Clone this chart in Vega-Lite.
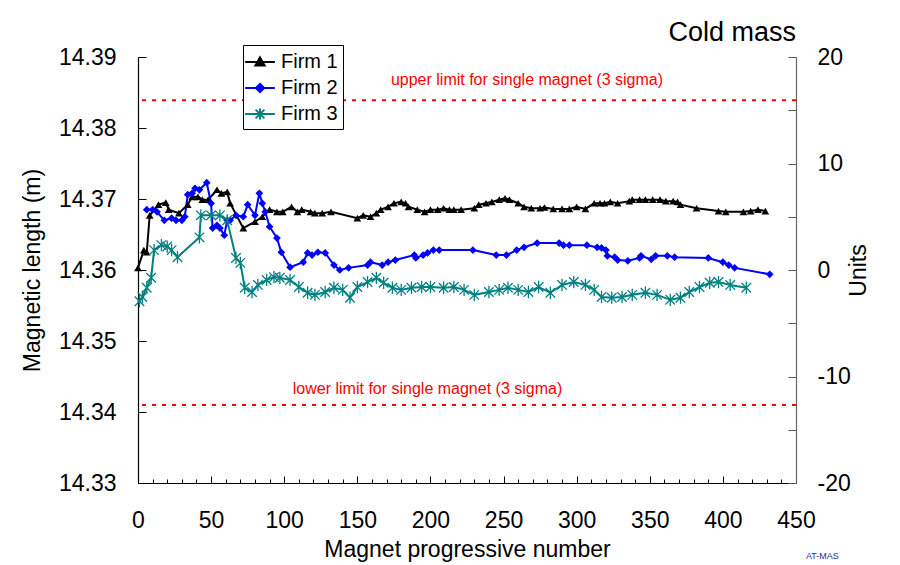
{
  "$schema": "https://vega.github.io/schema/vega-lite/v6.json",
  "autosize": "none",
  "width": 658,
  "height": 426,
  "padding": {"left": 138, "top": 57, "right": 104, "bottom": 82},
  "background": "white",
  "config": {
    "view": {"stroke": null},
    "font": "Liberation Sans",
    "axis": {"grid": false, "labelFont": "Liberation Sans", "titleFont": "Liberation Sans", "titleFontWeight": "normal", "labelColor": "black", "titleColor": "black"},
    "legend": {
      "orient": "none", "legendX": 105, "legendY": -12,
      "padding": 5, "strokeColor": "black", "fillColor": "white",
      "symbolSize": 484, "symbolStrokeWidth": 2, "symbolOpacity": 1,
      "labelFontSize": 20, "labelFont": "Liberation Sans", "labelColor": "black", "labelOffset": 9,
      "rowPadding": 4
    }
  },
  "title": {"text": "Cold mass", "anchor": "end", "frame": "group", "fontSize": 27, "font": "Liberation Sans", "fontWeight": "normal", "offset": -2, "color": "black"},
  "datasets": {
    "series": [
      {"firm": "Firm 1", "n": 0, "len": 14.3603},
      {"firm": "Firm 1", "n": 4, "len": 14.3628},
      {"firm": "Firm 1", "n": 6, "len": 14.3625},
      {"firm": "Firm 1", "n": 8, "len": 14.3677},
      {"firm": "Firm 1", "n": 14, "len": 14.3692},
      {"firm": "Firm 1", "n": 19, "len": 14.3695},
      {"firm": "Firm 1", "n": 21, "len": 14.3685},
      {"firm": "Firm 1", "n": 28, "len": 14.368},
      {"firm": "Firm 1", "n": 34, "len": 14.3692},
      {"firm": "Firm 1", "n": 37, "len": 14.3703},
      {"firm": "Firm 1", "n": 41, "len": 14.3703},
      {"firm": "Firm 1", "n": 44, "len": 14.3699},
      {"firm": "Firm 1", "n": 48, "len": 14.3699},
      {"firm": "Firm 1", "n": 54, "len": 14.3713},
      {"firm": "Firm 1", "n": 57, "len": 14.3708},
      {"firm": "Firm 1", "n": 61, "len": 14.371},
      {"firm": "Firm 1", "n": 63, "len": 14.3694},
      {"firm": "Firm 1", "n": 72, "len": 14.3659},
      {"firm": "Firm 1", "n": 80, "len": 14.3668},
      {"firm": "Firm 1", "n": 85, "len": 14.3675},
      {"firm": "Firm 1", "n": 90, "len": 14.3685},
      {"firm": "Firm 1", "n": 95, "len": 14.3682},
      {"firm": "Firm 1", "n": 99, "len": 14.3682},
      {"firm": "Firm 1", "n": 105, "len": 14.3689},
      {"firm": "Firm 1", "n": 109, "len": 14.3682},
      {"firm": "Firm 1", "n": 112, "len": 14.3685},
      {"firm": "Firm 1", "n": 118, "len": 14.3682},
      {"firm": "Firm 1", "n": 121, "len": 14.368},
      {"firm": "Firm 1", "n": 126, "len": 14.368},
      {"firm": "Firm 1", "n": 132, "len": 14.3682},
      {"firm": "Firm 1", "n": 150, "len": 14.3673},
      {"firm": "Firm 1", "n": 154, "len": 14.3677},
      {"firm": "Firm 1", "n": 159, "len": 14.3675},
      {"firm": "Firm 1", "n": 163, "len": 14.368},
      {"firm": "Firm 1", "n": 166, "len": 14.3685},
      {"firm": "Firm 1", "n": 171, "len": 14.3689},
      {"firm": "Firm 1", "n": 175, "len": 14.3694},
      {"firm": "Firm 1", "n": 180, "len": 14.3696},
      {"firm": "Firm 1", "n": 183, "len": 14.3694},
      {"firm": "Firm 1", "n": 185, "len": 14.3689},
      {"firm": "Firm 1", "n": 191, "len": 14.3685},
      {"firm": "Firm 1", "n": 196, "len": 14.3682},
      {"firm": "Firm 1", "n": 200, "len": 14.3685},
      {"firm": "Firm 1", "n": 205, "len": 14.3685},
      {"firm": "Firm 1", "n": 209, "len": 14.3687},
      {"firm": "Firm 1", "n": 213, "len": 14.3685},
      {"firm": "Firm 1", "n": 216, "len": 14.3685},
      {"firm": "Firm 1", "n": 221, "len": 14.3685},
      {"firm": "Firm 1", "n": 230, "len": 14.3687},
      {"firm": "Firm 1", "n": 233, "len": 14.3692},
      {"firm": "Firm 1", "n": 238, "len": 14.3694},
      {"firm": "Firm 1", "n": 242, "len": 14.3696},
      {"firm": "Firm 1", "n": 247, "len": 14.3699},
      {"firm": "Firm 1", "n": 251, "len": 14.3701},
      {"firm": "Firm 1", "n": 254, "len": 14.3699},
      {"firm": "Firm 1", "n": 260, "len": 14.3694},
      {"firm": "Firm 1", "n": 264, "len": 14.3689},
      {"firm": "Firm 1", "n": 269, "len": 14.3687},
      {"firm": "Firm 1", "n": 275, "len": 14.3687},
      {"firm": "Firm 1", "n": 278, "len": 14.3688},
      {"firm": "Firm 1", "n": 284, "len": 14.3686},
      {"firm": "Firm 1", "n": 290, "len": 14.3686},
      {"firm": "Firm 1", "n": 295, "len": 14.3686},
      {"firm": "Firm 1", "n": 300, "len": 14.3689},
      {"firm": "Firm 1", "n": 306, "len": 14.3686},
      {"firm": "Firm 1", "n": 312, "len": 14.3694},
      {"firm": "Firm 1", "n": 316, "len": 14.3694},
      {"firm": "Firm 1", "n": 319, "len": 14.3694},
      {"firm": "Firm 1", "n": 323, "len": 14.3696},
      {"firm": "Firm 1", "n": 328, "len": 14.3694},
      {"firm": "Firm 1", "n": 336, "len": 14.3697},
      {"firm": "Firm 1", "n": 338, "len": 14.3699},
      {"firm": "Firm 1", "n": 343, "len": 14.3699},
      {"firm": "Firm 1", "n": 347, "len": 14.3699},
      {"firm": "Firm 1", "n": 352, "len": 14.3699},
      {"firm": "Firm 1", "n": 357, "len": 14.3699},
      {"firm": "Firm 1", "n": 361, "len": 14.3697},
      {"firm": "Firm 1", "n": 366, "len": 14.3697},
      {"firm": "Firm 1", "n": 369, "len": 14.3696},
      {"firm": "Firm 1", "n": 371, "len": 14.3692},
      {"firm": "Firm 1", "n": 382, "len": 14.3687},
      {"firm": "Firm 1", "n": 397, "len": 14.3683},
      {"firm": "Firm 1", "n": 402, "len": 14.3682},
      {"firm": "Firm 1", "n": 414, "len": 14.3682},
      {"firm": "Firm 1", "n": 419, "len": 14.3683},
      {"firm": "Firm 1", "n": 424, "len": 14.3685},
      {"firm": "Firm 1", "n": 429, "len": 14.3683},
      {"firm": "Firm 2", "n": 6, "len": 14.3685},
      {"firm": "Firm 2", "n": 10, "len": 14.3685},
      {"firm": "Firm 2", "n": 13, "len": 14.3682},
      {"firm": "Firm 2", "n": 18, "len": 14.367},
      {"firm": "Firm 2", "n": 23, "len": 14.3673},
      {"firm": "Firm 2", "n": 26, "len": 14.367},
      {"firm": "Firm 2", "n": 30, "len": 14.367},
      {"firm": "Firm 2", "n": 32, "len": 14.3675},
      {"firm": "Firm 2", "n": 34, "len": 14.3706},
      {"firm": "Firm 2", "n": 37, "len": 14.3708},
      {"firm": "Firm 2", "n": 39, "len": 14.3715},
      {"firm": "Firm 2", "n": 42, "len": 14.3713},
      {"firm": "Firm 2", "n": 47, "len": 14.3723},
      {"firm": "Firm 2", "n": 50, "len": 14.3694},
      {"firm": "Firm 2", "n": 51, "len": 14.3659},
      {"firm": "Firm 2", "n": 54, "len": 14.3663},
      {"firm": "Firm 2", "n": 56, "len": 14.3659},
      {"firm": "Firm 2", "n": 59, "len": 14.3649},
      {"firm": "Firm 2", "n": 61, "len": 14.367},
      {"firm": "Firm 2", "n": 63, "len": 14.367},
      {"firm": "Firm 2", "n": 67, "len": 14.3677},
      {"firm": "Firm 2", "n": 72, "len": 14.3675},
      {"firm": "Firm 2", "n": 75, "len": 14.3692},
      {"firm": "Firm 2", "n": 80, "len": 14.3677},
      {"firm": "Firm 2", "n": 83, "len": 14.3708},
      {"firm": "Firm 2", "n": 85, "len": 14.3694},
      {"firm": "Firm 2", "n": 87, "len": 14.3682},
      {"firm": "Firm 2", "n": 90, "len": 14.3661},
      {"firm": "Firm 2", "n": 95, "len": 14.3645},
      {"firm": "Firm 2", "n": 98, "len": 14.3625},
      {"firm": "Firm 2", "n": 104, "len": 14.3604},
      {"firm": "Firm 2", "n": 113, "len": 14.3611},
      {"firm": "Firm 2", "n": 116, "len": 14.3624},
      {"firm": "Firm 2", "n": 119, "len": 14.3621},
      {"firm": "Firm 2", "n": 123, "len": 14.3625},
      {"firm": "Firm 2", "n": 128, "len": 14.3624},
      {"firm": "Firm 2", "n": 134, "len": 14.3607},
      {"firm": "Firm 2", "n": 138, "len": 14.36},
      {"firm": "Firm 2", "n": 144, "len": 14.3603},
      {"firm": "Firm 2", "n": 157, "len": 14.3607},
      {"firm": "Firm 2", "n": 159, "len": 14.3611},
      {"firm": "Firm 2", "n": 167, "len": 14.3607},
      {"firm": "Firm 2", "n": 171, "len": 14.3611},
      {"firm": "Firm 2", "n": 176, "len": 14.3614},
      {"firm": "Firm 2", "n": 189, "len": 14.3621},
      {"firm": "Firm 2", "n": 190, "len": 14.3617},
      {"firm": "Firm 2", "n": 195, "len": 14.3621},
      {"firm": "Firm 2", "n": 198, "len": 14.3624},
      {"firm": "Firm 2", "n": 202, "len": 14.3628},
      {"firm": "Firm 2", "n": 206, "len": 14.3628},
      {"firm": "Firm 2", "n": 229, "len": 14.3628},
      {"firm": "Firm 2", "n": 245, "len": 14.3621},
      {"firm": "Firm 2", "n": 252, "len": 14.3621},
      {"firm": "Firm 2", "n": 259, "len": 14.3628},
      {"firm": "Firm 2", "n": 264, "len": 14.3632},
      {"firm": "Firm 2", "n": 273, "len": 14.3638},
      {"firm": "Firm 2", "n": 288, "len": 14.3638},
      {"firm": "Firm 2", "n": 291, "len": 14.3635},
      {"firm": "Firm 2", "n": 295, "len": 14.3635},
      {"firm": "Firm 2", "n": 307, "len": 14.3635},
      {"firm": "Firm 2", "n": 314, "len": 14.3632},
      {"firm": "Firm 2", "n": 317, "len": 14.3631},
      {"firm": "Firm 2", "n": 320, "len": 14.3628},
      {"firm": "Firm 2", "n": 321, "len": 14.362},
      {"firm": "Firm 2", "n": 326, "len": 14.3618},
      {"firm": "Firm 2", "n": 328, "len": 14.3614},
      {"firm": "Firm 2", "n": 335, "len": 14.3613},
      {"firm": "Firm 2", "n": 343, "len": 14.3617},
      {"firm": "Firm 2", "n": 344, "len": 14.362},
      {"firm": "Firm 2", "n": 351, "len": 14.3615},
      {"firm": "Firm 2", "n": 354, "len": 14.362},
      {"firm": "Firm 2", "n": 362, "len": 14.362},
      {"firm": "Firm 2", "n": 367, "len": 14.3618},
      {"firm": "Firm 2", "n": 390, "len": 14.3617},
      {"firm": "Firm 2", "n": 400, "len": 14.3611},
      {"firm": "Firm 2", "n": 404, "len": 14.3607},
      {"firm": "Firm 2", "n": 408, "len": 14.3603},
      {"firm": "Firm 2", "n": 432, "len": 14.3594},
      {"firm": "Firm 3", "n": 1, "len": 14.3556},
      {"firm": "Firm 3", "n": 3, "len": 14.3562},
      {"firm": "Firm 3", "n": 6, "len": 14.3575},
      {"firm": "Firm 3", "n": 9, "len": 14.3589},
      {"firm": "Firm 3", "n": 11, "len": 14.3628},
      {"firm": "Firm 3", "n": 16, "len": 14.3635},
      {"firm": "Firm 3", "n": 20, "len": 14.3633},
      {"firm": "Firm 3", "n": 23, "len": 14.3628},
      {"firm": "Firm 3", "n": 27, "len": 14.3618},
      {"firm": "Firm 3", "n": 42, "len": 14.3646},
      {"firm": "Firm 3", "n": 43, "len": 14.3677},
      {"firm": "Firm 3", "n": 50, "len": 14.3677},
      {"firm": "Firm 3", "n": 56, "len": 14.3677},
      {"firm": "Firm 3", "n": 61, "len": 14.367},
      {"firm": "Firm 3", "n": 67, "len": 14.3617},
      {"firm": "Firm 3", "n": 70, "len": 14.361},
      {"firm": "Firm 3", "n": 73, "len": 14.3575},
      {"firm": "Firm 3", "n": 78, "len": 14.3569},
      {"firm": "Firm 3", "n": 82, "len": 14.3579},
      {"firm": "Firm 3", "n": 88, "len": 14.3586},
      {"firm": "Firm 3", "n": 93, "len": 14.359},
      {"firm": "Firm 3", "n": 97, "len": 14.3589},
      {"firm": "Firm 3", "n": 104, "len": 14.3586},
      {"firm": "Firm 3", "n": 110, "len": 14.3576},
      {"firm": "Firm 3", "n": 116, "len": 14.3568},
      {"firm": "Firm 3", "n": 121, "len": 14.3565},
      {"firm": "Firm 3", "n": 128, "len": 14.3569},
      {"firm": "Firm 3", "n": 134, "len": 14.3575},
      {"firm": "Firm 3", "n": 140, "len": 14.3572},
      {"firm": "Firm 3", "n": 145, "len": 14.3561},
      {"firm": "Firm 3", "n": 150, "len": 14.3576},
      {"firm": "Firm 3", "n": 157, "len": 14.3583},
      {"firm": "Firm 3", "n": 163, "len": 14.3589},
      {"firm": "Firm 3", "n": 168, "len": 14.3582},
      {"firm": "Firm 3", "n": 174, "len": 14.3575},
      {"firm": "Firm 3", "n": 180, "len": 14.3572},
      {"firm": "Firm 3", "n": 187, "len": 14.3575},
      {"firm": "Firm 3", "n": 194, "len": 14.3576},
      {"firm": "Firm 3", "n": 200, "len": 14.3576},
      {"firm": "Firm 3", "n": 209, "len": 14.3575},
      {"firm": "Firm 3", "n": 216, "len": 14.3576},
      {"firm": "Firm 3", "n": 223, "len": 14.3572},
      {"firm": "Firm 3", "n": 230, "len": 14.3565},
      {"firm": "Firm 3", "n": 240, "len": 14.3569},
      {"firm": "Firm 3", "n": 247, "len": 14.3572},
      {"firm": "Firm 3", "n": 253, "len": 14.3575},
      {"firm": "Firm 3", "n": 260, "len": 14.3572},
      {"firm": "Firm 3", "n": 267, "len": 14.3569},
      {"firm": "Firm 3", "n": 274, "len": 14.3576},
      {"firm": "Firm 3", "n": 282, "len": 14.3568},
      {"firm": "Firm 3", "n": 290, "len": 14.3579},
      {"firm": "Firm 3", "n": 298, "len": 14.3583},
      {"firm": "Firm 3", "n": 306, "len": 14.3579},
      {"firm": "Firm 3", "n": 312, "len": 14.3572},
      {"firm": "Firm 3", "n": 317, "len": 14.3562},
      {"firm": "Firm 3", "n": 324, "len": 14.3561},
      {"firm": "Firm 3", "n": 331, "len": 14.3562},
      {"firm": "Firm 3", "n": 338, "len": 14.3565},
      {"firm": "Firm 3", "n": 347, "len": 14.3568},
      {"firm": "Firm 3", "n": 355, "len": 14.3565},
      {"firm": "Firm 3", "n": 364, "len": 14.3558},
      {"firm": "Firm 3", "n": 371, "len": 14.3561},
      {"firm": "Firm 3", "n": 377, "len": 14.3569},
      {"firm": "Firm 3", "n": 384, "len": 14.3576},
      {"firm": "Firm 3", "n": 391, "len": 14.3582},
      {"firm": "Firm 3", "n": 397, "len": 14.3583},
      {"firm": "Firm 3", "n": 405, "len": 14.3579},
      {"firm": "Firm 3", "n": 416, "len": 14.3575}
    ],
    "limits": [{"lim": 14.3839}, {"lim": 14.341}],
    "notes": [
      {"n": 266, "len": 14.3867, "t": "upper limit for single magnet (3 sigma)"},
      {"n": 198, "len": 14.3433, "t": "lower limit for single magnet (3 sigma)"}
    ],
    "firms": [{"firm": "Firm 1"}, {"firm": "Firm 2"}, {"firm": "Firm 3"}],
    "units": [{"u": -20}, {"u": 20}],
    "credit": [{"n": 468, "len": 14.3197, "t": "AT-MAS"}]
  },
  "layer": [
    {
      "resolve": {"axis": {"x": "independent"}},
      "layer": [
        {
          "data": {"name": "series"},
          "transform": [{"filter": "datum.firm === 'Firm 1'"}],
          "mark": {"type": "line", "strokeWidth": 2, "color": "#000000"},
          "encoding": {
            "x": {
              "field": "n", "type": "quantitative",
              "scale": {"domain": [0, 450], "nice": false, "zero": false},
              "axis": {
                "orient": "bottom",
                "values": [0, 50, 100, 150, 200, 250, 300, 350, 400, 450],
                "labelOverlap": false,
                "tickSize": -7,
                "tickColor": "black", "domainColor": "black", "domainWidth": 1.2,
                "labelFontSize": 23, "labelPadding": 33, "labelFlush": false,
                "title": "Magnet progressive number", "titleFontSize": 23, "titlePadding": 6
              }
            },
            "y": {
              "field": "len", "type": "quantitative",
              "scale": {"domain": [14.33, 14.39], "nice": false, "zero": false},
              "axis": {
                "values": [14.33, 14.335, 14.34, 14.345, 14.35, 14.355, 14.36, 14.365, 14.37, 14.375, 14.38, 14.385, 14.39],
                "labelExpr": "round(datum.value * 1000) % 10 === 0 ? format(datum.value, '.2f') : ''",
                "labelOverlap": false,
                "tickSize": -8, "tickColor": "black", "domainColor": "black", "domainWidth": 1.2,
                "labelFontSize": 23, "labelPadding": 30,
                "title": "Magnetic length (m)", "titleFontSize": 23, "titlePadding": 14
              }
            },
            "order": {"field": "n", "type": "quantitative"}
          }
        },
        {
          "data": {"name": "series"},
          "transform": [{"filter": "datum.firm === 'Firm 2'"}],
          "mark": {"type": "line", "strokeWidth": 2, "color": "#0000FF"},
          "encoding": {"x": {"field": "n", "type": "quantitative", "axis": null}, "y": {"field": "len", "type": "quantitative"}, "order": {"field": "n", "type": "quantitative"}}
        },
        {
          "data": {"name": "series"},
          "transform": [{"filter": "datum.firm === 'Firm 3'"}],
          "mark": {"type": "line", "strokeWidth": 2, "color": "#008080"},
          "encoding": {"x": {"field": "n", "type": "quantitative", "axis": null}, "y": {"field": "len", "type": "quantitative"}, "order": {"field": "n", "type": "quantitative"}}
        },
        {
          "data": {"name": "limits"},
          "mark": {"type": "rule", "color": "#FF0000", "strokeDash": [4, 6], "strokeWidth": 2},
          "encoding": {"y": {"field": "lim", "type": "quantitative"}}
        },
        {
          "data": {"name": "notes"},
          "mark": {"type": "text", "color": "#FF0000", "fontSize": 16, "font": "Liberation Sans", "baseline": "middle", "align": "center"},
          "encoding": {
            "x": {
              "field": "n", "type": "quantitative",
              "axis": {
                "orient": "bottom",
                "values": [0,10,20,30,40,60,70,80,90,110,120,130,140,160,170,180,190,210,220,230,240,260,270,280,290,310,320,330,340,360,370,380,390,410,420,430,440],
                "labels": false, "domain": false, "title": null, "grid": false,
                "tickSize": -4, "tickColor": "black"
              }
            },
            "y": {"field": "len", "type": "quantitative"},
            "text": {"field": "t"}
          }
        },
        {
          "data": {"name": "series"},
          "transform": [{"filter": "datum.firm === 'Firm 1'"}],
          "mark": {"type": "point", "shape": "triangle-up", "filled": true, "color": "#000000", "size": 60, "opacity": 1},
          "encoding": {"x": {"field": "n", "type": "quantitative", "axis": null}, "y": {"field": "len", "type": "quantitative"}}
        },
        {
          "data": {"name": "series"},
          "transform": [{"filter": "datum.firm === 'Firm 2'"}],
          "mark": {"type": "point", "shape": "diamond", "filled": true, "color": "#0000FF", "size": 60, "opacity": 1},
          "encoding": {"x": {"field": "n", "type": "quantitative", "axis": null}, "y": {"field": "len", "type": "quantitative"}}
        },
        {
          "data": {"name": "series"},
          "transform": [{"filter": "datum.firm === 'Firm 3'"}],
          "mark": {"type": "point", "shape": "M-1,-1L1,1M-1,1L1,-1M0,-1.3L0,1.3", "filled": false, "color": "#008080", "size": 90, "strokeWidth": 1.3, "opacity": 1},
          "encoding": {"x": {"field": "n", "type": "quantitative", "axis": null}, "y": {"field": "len", "type": "quantitative"}}
        },
        {
          "data": {"name": "credit"},
          "mark": {"type": "text", "color": "#1F2F8F", "fontSize": 9, "font": "Liberation Sans", "align": "center", "baseline": "middle"},
          "encoding": {
            "x": {"field": "n", "type": "quantitative", "axis": null},
            "y": {"field": "len", "type": "quantitative"},
            "text": {"field": "t"}
          }
        },
        {
          "data": {"name": "firms"},
          "mark": {"type": "point", "filled": true, "opacity": 0, "strokeWidth": 2},
          "encoding": {
            "fill": {
              "field": "firm", "type": "nominal", "title": null,
              "scale": {"domain": ["Firm 1", "Firm 2", "Firm 3"], "range": ["#000000", "#0000FF", "#008080"]}
            },
            "stroke": {
              "field": "firm", "type": "nominal", "title": null,
              "scale": {"domain": ["Firm 1", "Firm 2", "Firm 3"], "range": ["#000000", "#0000FF", "#008080"]}
            },
            "shape": {
              "field": "firm", "type": "nominal", "title": null,
              "scale": {
                "domain": ["Firm 1", "Firm 2", "Firm 3"],
                "range": [
                  "M-1.35,0L1.35,0M0,-0.42L0.42,0.32L-0.42,0.32Z",
                  "M-1.35,0L1.35,0M0,-0.38L0.38,0L0,0.38L-0.38,0Z",
                  "M-1.35,0L1.35,0M-0.4,-0.4L0.4,0.4M-0.4,0.4L0.4,-0.4M0,-0.5L0,0.5"
                ]
              }
            }
          }
        }
      ]
    },
    {
      "data": {"name": "units"},
      "mark": {"type": "point", "opacity": 0},
      "encoding": {
        "y": {
          "field": "u", "type": "quantitative",
          "scale": {"domain": [-20, 20], "nice": false, "zero": false},
          "axis": {
            "orient": "right",
            "values": [-20, -15, -10, -5, 0, 5, 10, 15, 20],
            "labelExpr": "datum.value % 10 === 0 ? '' + datum.value : ''",
            "labelOverlap": false,
            "tickSize": -8, "tickColor": "#555555", "domainColor": "#666666", "domainWidth": 1.2,
            "labelFontSize": 23, "labelPadding": 29,
            "title": "Units", "titleFontSize": 23, "titlePadding": 20, "titleAngle": -90
          }
        }
      }
    }
  ],
  "resolve": {"scale": {"y": "independent"}}
}
